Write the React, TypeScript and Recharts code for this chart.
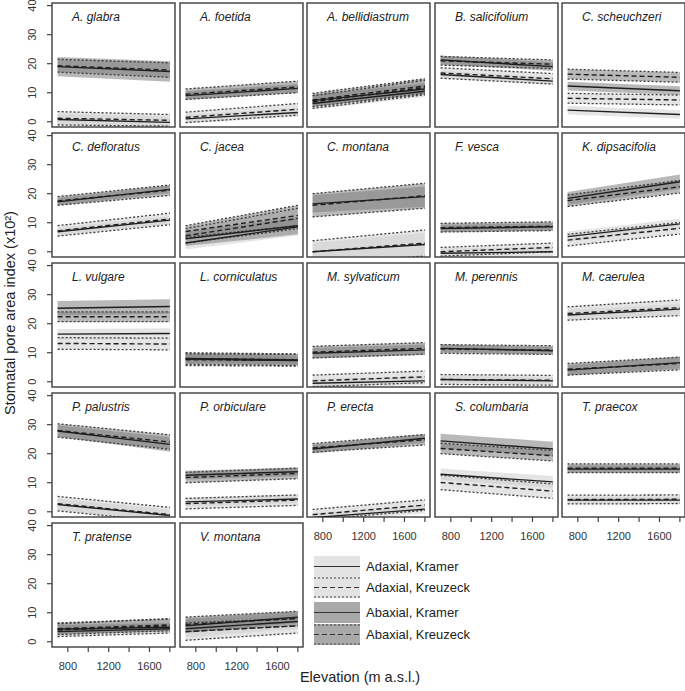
import React from 'react';
import { ComposedChart, Area, Line, XAxis, YAxis, ReferenceArea } from 'recharts';

// ---------- data ----------
const species = [
  'A. glabra', 'A. foetida', 'A. bellidiastrum', 'B. salicifolium', 'C. scheuchzeri',
  'C. defloratus', 'C. jacea', 'C. montana', 'F. vesca', 'K. dipsacifolia',
  'L. vulgare', 'L. corniculatus', 'M. sylvaticum', 'M. perennis', 'M. caerulea',
  'P. palustris', 'P. orbiculare', 'P. erecta', 'S. columbaria', 'T. praecox',
  'T. pratense', 'V. montana',
];

const elevations = [700, 1800];

// each entry: [mean at 700 m, mean at 1800 m, CI half-width at 700 m, CI half-width at 1800 m]
const adaxialKramer = [
  [0.8, -0.2, 2, 2], [1, 3.2, 1.5, 1.5], [6.3, 10.5, 2, 2], [16.3, 14, 1.3, 1.3], [4, 2.5, 1.5, 1.5],
  [6.9, 10.9, 1.3, 1.3], [3, 8.6, 2.2, 3], [0, 2.5, 3, 4], [-0.5, 0, 1.5, 1.5], [5.2, 9.6, 1.8, 1.8],
  [16.4, 16.6, 1.8, 1.8], [7.8, 7.3, 1.5, 1.5], [-0.5, 0.3, 1.5, 1.5], [0.8, 0.3, 1.2, 1.2], [23, 25, 1.8, 1.8],
  [2.5, -1.3, 2, 2], [3.4, 4.4, 1.5, 1.5], [-2, 0.9, 1.5, 1.5], [12.9, 10.3, 2, 2], [4, 4, 1.2, 1.2],
  [3.5, 4.5, 1.5, 1.5], [4.5, 7, 3, 2.5],
];
const adaxialKreuzeck = [
  [1.2, 0.5, 2.3, 2], [1.5, 4.3, 1.8, 2], [6.8, 11.8, 2.2, 2.5], [16.8, 14.8, 1.8, 1.8], [8.1, 7.5, 1.7, 1.7],
  [7.2, 11.3, 1.8, 2], [5.5, 11.5, 2.5, 3.5], [0, 3, 3.8, 4.5], [0, 1.5, 1.5, 1.5], [4, 8.1, 2, 2],
  [13.2, 13, 2, 2], [7.6, 7.4, 2, 2], [0.3, 1.7, 2, 2], [0.8, 0.5, 1.7, 1.7], [23.5, 25.5, 2.3, 2.7],
  [2.8, -1, 2.5, 2.5], [2.8, 4, 1.8, 1.8], [-1, 2.3, 1.8, 1.8], [10.1, 7.1, 2.5, 2.5], [4.2, 4.3, 1.5, 1.5],
  [4, 5.5, 2.2, 2.5], [3.5, 5.5, 3, 2.5],
];
const abaxialKramer = [
  [19, 17.3, 3.3, 3.5], [9, 11.5, 1.5, 1.5], [7.3, 11.3, 2, 2], [21.3, 19, 1.5, 1.5], [12.3, 10.7, 1.5, 1.5],
  [17.2, 21.5, 1.3, 1.3], [4.5, 9, 2.5, 3], [16.5, 19, 3, 3.5], [8, 8.6, 1.3, 1.3], [18.4, 24.1, 2.2, 2.5],
  [25.3, 25.9, 2.5, 2.5], [8, 7.5, 1.5, 1.5], [9.8, 11, 1.8, 1.8], [11.5, 10.7, 1.3, 1.3], [4, 6.6, 1.8, 2],
  [27.8, 23.2, 2, 2.5], [12.6, 13.8, 1.5, 1.5], [21.6, 25.3, 1.5, 1.5], [24.4, 21.6, 2.5, 2.5], [14.7, 14.7, 1.3, 1.3],
  [4.3, 5, 1.5, 1.5], [5.5, 8.5, 2.5, 2],
];
const abaxialKreuzeck = [
  [19.3, 17.8, 2.2, 2.5], [9.5, 12, 1.8, 2], [7.5, 12.3, 2.3, 2.5], [21, 19.8, 1.5, 1.5], [16.4, 15.3, 1.7, 1.7],
  [17.5, 21.2, 1.5, 1.8], [7, 12.5, 2, 3.5], [16, 19.3, 4, 4.3], [8.3, 8.8, 1.5, 1.5], [17.6, 22.4, 2, 2.2],
  [22.4, 22.4, 1.7, 1.7], [8, 7.6, 2, 2], [10.2, 11.5, 2, 2], [11.3, 10.9, 1.5, 1.5], [4.3, 6.3, 2, 2.2],
  [28, 24, 2.3, 2.5], [11.8, 13.2, 1.8, 1.8], [22, 24.8, 1.5, 1.8], [21.8, 19.3, 1.8, 1.8], [15, 15, 1.5, 1.5],
  [4.5, 5.8, 2, 2], [6, 8, 2.5, 2.5],
];

const yTicks = [0, 10, 20, 30, 40];
const xTicks = [800, 1000, 1200, 1400, 1600, 1800];
const xTickLabels = [800, 1200, 1600];

const legendLabels = ['Adaxial, Kramer', 'Adaxial, Kreuzeck', 'Abaxial, Kramer', 'Abaxial, Kreuzeck'];

// ---------- layout / style ----------
const X_DOMAIN: [number, number] = [645, 1850];
const Y_DOMAIN: [number, number] = [-1.8, 40.9];
const COLS = [52, 179.5, 307, 434.5, 562];
const ROWS = [3, 133, 263, 393, 523];
const PW = 123;
const PH = 124;
const LEFT = 50;
const TOP = 10;
const RIGHT = 2;
const BOTTOM = 40;

const AD_FILL = '#cfcfcf';
const AB_FILL = '#7f7f7f';
const LINE_COL = '#1e1e1e';
const FONT = '"Liberation Sans", Arial, sans-serif';

const seriesDefs = [
  { key: 'adKr', values: adaxialKramer, fill: AD_FILL, fillOpacity: 0.55, dashed: false },
  { key: 'adKz', values: adaxialKreuzeck, fill: AD_FILL, fillOpacity: 0.55, dashed: true },
  { key: 'abKr', values: abaxialKramer, fill: AB_FILL, fillOpacity: 0.55, dashed: false },
  { key: 'abKz', values: abaxialKreuzeck, fill: AB_FILL, fillOpacity: 0.55, dashed: true },
];

function buildData(i: number) {
  return elevations.map((e, k) => {
    const row: any = { x: e };
    seriesDefs.forEach((s) => {
      const v = s.values[i];
      const m = v[k];
      const w = v[2 + k];
      row[s.key] = m;
      row[s.key + 'Band'] = [m - w, m + w];
      row[s.key + 'Lo'] = m - w;
      row[s.key + 'Hi'] = m + w;
    });
    return row;
  });
}

const YTick = (props: any) => {
  const { y, payload } = props;
  const cx = LEFT - 20;
  return (
    <text
      x={cx}
      y={y}
      transform={`rotate(-90 ${cx} ${y})`}
      textAnchor="middle"
      dominantBaseline="central"
      fontSize={11}
      fontFamily={FONT}
      fill="#333"
    >
      {payload.value}
    </text>
  );
};

function Panel({ i }: { i: number }) {
  const row = Math.floor(i / 5);
  const col = i % 5;
  const showY = col === 0;
  const showX = row === 4 || (row === 3 && col >= 2);
  const data = buildData(i);
  const name = species[i];
  return (
    <div style={{ position: 'absolute', left: COLS[col] - LEFT, top: ROWS[row] - TOP }}>
      <ComposedChart
        width={LEFT + PW + RIGHT}
        height={TOP + PH + BOTTOM}
        data={data}
        margin={{ top: TOP, right: RIGHT, bottom: 0, left: 0 }}
      >
        <XAxis
          type="number"
          dataKey="x"
          domain={X_DOMAIN}
          allowDataOverflow
          ticks={xTicks}
          interval={0}
          height={BOTTOM}
          axisLine={false}
          tickLine={showX ? { stroke: '#444', strokeWidth: 1.2 } : false}
          tickSize={5}
          tickMargin={10}
          tick={showX ? { fontSize: 11, fontFamily: FONT, fill: '#333' } : false}
          tickFormatter={(v: number) => (xTickLabels.includes(v) ? String(v) : '')}
        />
        <YAxis
          type="number"
          domain={Y_DOMAIN}
          allowDataOverflow
          ticks={yTicks}
          interval={0}
          width={LEFT}
          axisLine={false}
          tickLine={showY ? { stroke: '#444', strokeWidth: 1.2 } : false}
          tickSize={5}
          tick={showY ? <YTick /> : false}
        />
        {seriesDefs.map((s) => (
          <Area
            key={s.key + 'Band'}
            dataKey={s.key + 'Band'}
            type="linear"
            stroke="none"
            fill={s.fill}
            fillOpacity={s.fillOpacity}
            isAnimationActive={false}
            dot={false}
            activeDot={false}
          />
        ))}
        {seriesDefs
          .filter((s) => s.dashed)
          .flatMap((s) => [
            <Line
              key={s.key + 'Lo'}
              dataKey={s.key + 'Lo'}
              type="linear"
              stroke="#3a3a3a"
              strokeWidth={1.3}
              strokeDasharray="2 2"
              dot={false}
              activeDot={false}
              isAnimationActive={false}
            />,
            <Line
              key={s.key + 'Hi'}
              dataKey={s.key + 'Hi'}
              type="linear"
              stroke="#3a3a3a"
              strokeWidth={1.3}
              strokeDasharray="2 2"
              dot={false}
              activeDot={false}
              isAnimationActive={false}
            />,
          ])}
        {seriesDefs.map((s) => (
          <Line
            key={s.key}
            dataKey={s.key}
            type="linear"
            stroke={LINE_COL}
            strokeWidth={1.4}
            strokeDasharray={s.dashed ? '5 3' : undefined}
            dot={false}
            activeDot={false}
            isAnimationActive={false}
          />
        ))}
        <ReferenceArea
          x1={X_DOMAIN[0]}
          x2={X_DOMAIN[1]}
          y1={Y_DOMAIN[0]}
          y2={Y_DOMAIN[1]}
          fill="none"
          fillOpacity={0}
          stroke="#4a4a4a"
          strokeWidth={1.5}
          ifOverflow="visible"
          label={{
            content: (p: any) => {
              const vb = p.viewBox || {};
              return (
                <text
                  x={(vb.x ?? 0) + 20}
                  y={(vb.y ?? 0) + 18}
                  fontSize={12}
                  fontStyle="italic"
                  fontFamily={FONT}
                  fill="#222"
                >
                  {name}
                </text>
              );
            },
          }}
        />
      </ComposedChart>
    </div>
  );
}

function LegendAndTitles() {
  const sx = 314;
  const sw = 46;
  const tops = [556, 577, 602, 624];
  const h = 21;
  return (
    <svg
      width={685}
      height={691}
      style={{ position: 'absolute', left: 0, top: 0, pointerEvents: 'none' }}
    >
      <text
        x={10}
        y={313}
        transform="rotate(-90 10 313)"
        textAnchor="middle"
        dominantBaseline="central"
        fontSize={14.5}
        fontFamily={FONT}
        fill="#222"
      >
        Stomatal pore area index (x10²)
      </text>
      <text
        x={360}
        y={677}
        textAnchor="middle"
        dominantBaseline="central"
        fontSize={14.5}
        fontFamily={FONT}
        fill="#222"
      >
        Elevation (m a.s.l.)
      </text>
      {legendLabels.map((lab, k) => {
        const t = tops[k];
        const isAb = k >= 2;
        const isKz = k % 2 === 1;
        return (
          <g key={lab}>
            <rect x={sx} y={t} width={sw} height={h} fill={isAb ? '#a9a9a9' : '#e3e3e3'} />
            {isKz && (
              <>
                <line x1={sx} x2={sx + sw} y1={t + 1} y2={t + 1} stroke="#444" strokeWidth={1.2} strokeDasharray="2 2" />
                <line x1={sx} x2={sx + sw} y1={t + h - 1} y2={t + h - 1} stroke="#444" strokeWidth={1.2} strokeDasharray="2 2" />
              </>
            )}
            <line
              x1={sx}
              x2={sx + sw}
              y1={t + h / 2}
              y2={t + h / 2}
              stroke="#333"
              strokeWidth={1.2}
              strokeDasharray={isKz ? '5 3' : undefined}
            />
            <text
              x={sx + sw + 6}
              y={t + h / 2}
              dominantBaseline="central"
              fontSize={13}
              fontFamily={FONT}
              fill="#222"
            >
              {lab}
            </text>
          </g>
        );
      })}
    </svg>
  );
}

export default function App() {
  return (
    <div style={{ position: 'absolute', left: 0, top: 0, width: 685, height: 691, background: '#fff', overflow: 'hidden' }}>
      {species.map((_, i) => (
        <Panel key={i} i={i} />
      ))}
      <LegendAndTitles />
    </div>
  );
}
